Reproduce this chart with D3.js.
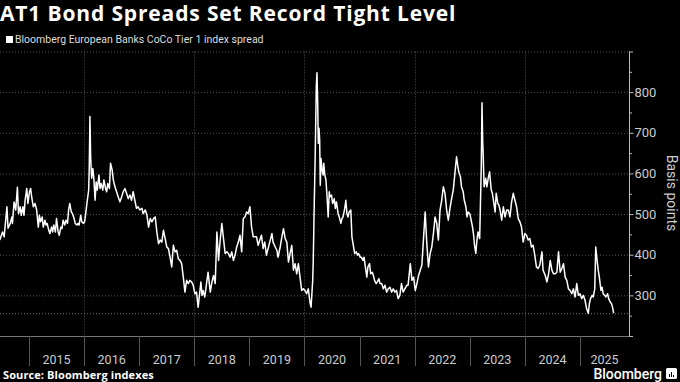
<!DOCTYPE html>
<html>
<head>
<meta charset="utf-8">
<script src="https://cdn.jsdelivr.net/npm/d3@7"></script>
<style>
  body { margin: 0; background: #000; }
  svg text { font-family: Roboto, "Noto Sans", sans-serif; }
  svg text.wide { font-family: "Open Sans", sans-serif; }
</style>
</head>
<body>
<div id="chart"></div>
<script>
// fractional years
var times = [
  2014.47, 2014.52, 2014.55, 2014.56, 2014.60, 2014.62, 2014.66, 2014.69, 2014.70, 2014.73,
  2014.76, 2014.79, 2014.81, 2014.84, 2014.86, 2014.89, 2014.91, 2014.93, 2014.96, 2014.98,
  2015.01, 2015.03, 2015.05, 2015.08, 2015.11, 2015.14, 2015.17, 2015.19, 2015.21, 2015.24,
  2015.26, 2015.29, 2015.31, 2015.33, 2015.36, 2015.38, 2015.41, 2015.43, 2015.45, 2015.48,
  2015.50, 2015.53, 2015.55, 2015.58, 2015.60, 2015.62, 2015.65, 2015.67, 2015.70, 2015.72,
  2015.74, 2015.77, 2015.79, 2015.82, 2015.84, 2015.87, 2015.89, 2015.91, 2015.94, 2015.96,
  2015.99, 2016.01, 2016.03, 2016.06, 2016.084, 2016.095, 2016.107, 2016.120, 2016.138, 2016.16,
  2016.18, 2016.20, 2016.22, 2016.24, 2016.27, 2016.29, 2016.31, 2016.34, 2016.36, 2016.39,
  2016.41, 2016.43, 2016.46, 2016.48, 2016.51, 2016.53, 2016.56, 2016.59, 2016.62, 2016.65,
  2016.68, 2016.71, 2016.74, 2016.77, 2016.80, 2016.83, 2016.86, 2016.89, 2016.92, 2016.95,
  2016.98, 2017.01, 2017.05, 2017.07, 2017.11, 2017.14, 2017.17, 2017.20, 2017.23, 2017.26,
  2017.29, 2017.32, 2017.35, 2017.38, 2017.41, 2017.44, 2017.47, 2017.50, 2017.53, 2017.56,
  2017.59, 2017.62, 2017.65, 2017.68, 2017.71, 2017.74, 2017.77, 2017.80, 2017.83, 2017.86,
  2017.89, 2017.92, 2017.95, 2017.98, 2018.01, 2018.04, 2018.07, 2018.09, 2018.12, 2018.14,
  2018.16, 2018.19, 2018.23, 2018.25, 2018.29, 2018.32, 2018.35, 2018.38, 2018.41, 2018.44,
  2018.47, 2018.50, 2018.53, 2018.56, 2018.59, 2018.62, 2018.65, 2018.68, 2018.71, 2018.74,
  2018.77, 2018.80, 2018.83, 2018.86, 2018.89, 2018.92, 2018.95, 2018.98, 2019.01, 2019.04,
  2019.07, 2019.13, 2019.16, 2019.19, 2019.22, 2019.25, 2019.28, 2019.31, 2019.34, 2019.37,
  2019.41, 2019.43, 2019.47, 2019.50, 2019.52, 2019.56, 2019.59, 2019.62, 2019.65, 2019.68,
  2019.71, 2019.74, 2019.77, 2019.80, 2019.83, 2019.86, 2019.89, 2019.92, 2019.95, 2019.98,
  2020.01, 2020.04, 2020.07, 2020.10, 2020.12, 2020.15, 2020.160, 2020.178, 2020.196, 2020.215,
  2020.227, 2020.240, 2020.251, 2020.264, 2020.276, 2020.287, 2020.300, 2020.32, 2020.34, 2020.35,
  2020.37, 2020.39, 2020.41, 2020.43, 2020.45, 2020.46, 2020.49, 2020.51, 2020.54, 2020.56,
  2020.58, 2020.61, 2020.63, 2020.66, 2020.68, 2020.70, 2020.73, 2020.75, 2020.77, 2020.79,
  2020.81, 2020.84, 2020.86, 2020.89, 2020.91, 2020.94, 2020.96, 2020.98, 2021.01, 2021.03,
  2021.06, 2021.08, 2021.10, 2021.13, 2021.15, 2021.18, 2021.20, 2021.23, 2021.25, 2021.27,
  2021.30, 2021.32, 2021.35, 2021.37, 2021.40, 2021.43, 2021.46, 2021.49, 2021.52, 2021.55,
  2021.58, 2021.61, 2021.64, 2021.67, 2021.70, 2021.73, 2021.76, 2021.79, 2021.82, 2021.86,
  2021.88, 2021.92, 2021.95, 2021.98, 2022.01, 2022.04, 2022.07, 2022.10, 2022.13, 2022.16,
  2022.19, 2022.22, 2022.25, 2022.28, 2022.31, 2022.34, 2022.37, 2022.40, 2022.43, 2022.46,
  2022.49, 2022.52, 2022.55, 2022.58, 2022.61, 2022.64, 2022.67, 2022.70, 2022.73, 2022.76,
  2022.78, 2022.80, 2022.83, 2022.85, 2022.88, 2022.90, 2022.93, 2022.95, 2022.97, 2023.00,
  2023.02, 2023.05, 2023.07, 2023.09, 2023.11, 2023.13, 2023.15, 2023.18, 2023.198, 2023.209,
  2023.222, 2023.234, 2023.245, 2023.26, 2023.29, 2023.31, 2023.34, 2023.36, 2023.39, 2023.41,
  2023.43, 2023.46, 2023.48, 2023.51, 2023.53, 2023.55, 2023.58, 2023.61, 2023.64, 2023.67,
  2023.70, 2023.73, 2023.76, 2023.79, 2023.82, 2023.85, 2023.88, 2023.91, 2023.94, 2023.97,
  2024.00, 2024.03, 2024.06, 2024.09, 2024.12, 2024.15, 2024.18, 2024.21, 2024.24, 2024.27,
  2024.31, 2024.33, 2024.37, 2024.40, 2024.43, 2024.46, 2024.49, 2024.52, 2024.55, 2024.58,
  2024.61, 2024.64, 2024.67, 2024.70, 2024.73, 2024.76, 2024.79, 2024.82, 2024.85, 2024.88,
  2024.91, 2024.94, 2024.97, 2025.00, 2025.03, 2025.06, 2025.09, 2025.12, 2025.15, 2025.17,
  2025.19, 2025.22, 2025.24, 2025.267, 2025.285, 2025.303, 2025.33, 2025.35, 2025.38, 2025.40,
  2025.42, 2025.45, 2025.47, 2025.50, 2025.52, 2025.55, 2025.57, 2025.59, 2025.61
];

// index spread, basis points
var spreads = [
  436, 456, 444, 460, 518, 465, 477, 493, 477, 530,
  510, 566, 501, 518, 497, 518, 497, 534, 563, 526,
  555, 563, 542, 518, 526, 510, 468, 497, 481, 493,
  468, 485, 473, 477, 460, 452, 468, 456, 473, 456,
  489, 456, 448, 468, 464, 485, 473, 485, 477, 510,
  526, 505, 501, 489, 477, 473, 477, 473, 497, 481,
  477, 481, 501, 534, 559, 616, 740, 641, 588, 612,
  584, 534, 579, 559, 596, 563, 575, 559, 584, 563,
  555, 575, 563, 625, 608, 584, 567, 555, 542, 530,
  542, 555, 563, 551, 538, 547, 534, 555, 534, 514,
  518, 510, 514, 501, 510, 497, 468, 489, 481, 489,
  493, 456, 427, 436, 431, 460, 440, 419, 415, 394,
  370, 423, 407, 411, 390, 386, 378, 345, 308, 337,
  329, 337, 333, 325, 304, 308, 271, 296, 333, 300,
  312, 296, 337, 357, 308, 333, 349, 329, 456, 386,
  436, 477, 440, 403, 407, 403, 394, 407, 386, 399,
  419, 431, 448, 407, 489, 493, 505, 501, 518, 468,
  444, 444, 423, 436, 448, 415, 431, 399, 415, 431,
  452, 431, 419, 411, 394, 419, 444, 464, 440, 431,
  382, 403, 423, 362, 378, 353, 378, 345, 312, 316,
  312, 304, 316, 283, 271, 337, 386, 526, 650, 814,
  848, 773, 674, 711, 682, 571, 637, 608, 596, 625,
  596, 584, 542, 493, 555, 542, 547, 526, 538, 514,
  530, 501, 493, 477, 489, 493, 514, 534, 501, 493,
  505, 510, 444, 419, 403, 407, 399, 403, 394, 394,
  386, 394, 374, 345, 370, 378, 353, 357, 349, 337,
  329, 333, 341, 329, 329, 316, 325, 308, 316, 320,
  308, 316, 308, 312, 292, 300, 329, 308, 316, 325,
  325, 378, 337, 345, 312, 329, 349, 362, 374, 440,
  505, 427, 370, 403, 419, 452, 493, 477, 436, 510,
  534, 567, 551, 510, 485, 514, 538, 559, 600, 641,
  621, 604, 592, 567, 555, 534, 518, 493, 505, 501,
  489, 468, 448, 419, 403, 436, 456, 440, 551, 616,
  774, 682, 641, 567, 588, 567, 592, 604, 559, 551,
  534, 505, 551, 526, 522, 510, 485, 518, 493, 510,
  510, 493, 530, 551, 534, 518, 489, 481, 468, 431,
  452, 448, 436, 440, 419, 423, 399, 370, 366, 374,
  407, 362, 349, 333, 353, 386, 362, 353, 353, 357,
  407, 357, 366, 378, 345, 337, 316, 312, 304, 316,
  296, 329, 300, 304, 292, 300, 288, 267, 256, 280,
  292, 300, 296, 316, 419, 394, 362, 345, 312, 320,
  304, 300, 296, 304, 292, 283, 280, 271, 256
];

var yTicks = [300, 400, 500, 600, 700, 800];
var yMinorTicks = [250, 350, 450, 550, 650, 750, 850];
var yearLabels = [2015, 2016, 2017, 2018, 2019, 2020, 2021, 2022, 2023, 2024, 2025];
var gridYears = [2016, 2018, 2020, 2022, 2024];

var svgWidth = 680;
var svgHeight = 382;
var plotRight = 629;
var plotTop = 51.5;
var plotBottom = 336;

function yearToDate(fy) {
  var y = Math.floor(fy);
  var start = new Date(y, 0, 1);
  var end = new Date(y + 1, 0, 1);
  return new Date(+start + (fy - y) * (end - start));
}

var data = times.map(function(t, i) {
  return { date: yearToDate(t), value: spreads[i] };
});

var svg = d3.select("#chart")
  .append("svg")
  .attr("width", svgWidth)
  .attr("height", svgHeight)
  .style("background", "#000");

var x = d3.scaleTime()
  .domain([yearToDate(2014.474), yearToDate(2025.889)])
  .range([0, plotRight]);

var y = d3.scaleLinear()
  .domain([200, 900])
  .range([plotBottom, plotTop]);

// title + legend
svg.append("text")
  .classed("wide", true)
  .attr("x", 0)
  .attr("y", 21)
  .attr("fill", "#fff")
  .attr("font-size", "21px")
  .attr("font-weight", "bold")
  .attr("letter-spacing", "0.85px")
  .text("AT1 Bond Spreads Set Record Tight Level");

svg.append("rect")
  .attr("x", 6)
  .attr("y", 36)
  .attr("width", 7)
  .attr("height", 7)
  .attr("fill", "#fff");

svg.append("text")
  .attr("x", 15)
  .attr("y", 43)
  .attr("fill", "#ddd")
  .attr("font-size", "10.5px")
  .text("Bloomberg European Banks CoCo Tier 1 index spread");

// gridlines
var grid = svg.append("g").attr("stroke", "#555").attr("stroke-dasharray", "1,2");

grid.selectAll("line.hgrid")
  .data(yTicks.concat([900]))
  .enter()
  .append("line")
  .attr("x1", 0)
  .attr("x2", plotRight)
  .attr("y1", d => y(d) + 0.5)
  .attr("y2", d => y(d) + 0.5);

grid.selectAll("line.vgrid")
  .data(gridYears)
  .enter()
  .append("line")
  .attr("x1", d => Math.round(x(new Date(d, 0, 1))) + 0.5)
  .attr("x2", d => Math.round(x(new Date(d, 0, 1))) + 0.5)
  .attr("y1", plotTop)
  .attr("y2", plotBottom);

// reference line at the latest (record tight) level
var lastValue = spreads[spreads.length - 1];
svg.append("line")
  .attr("x1", 0)
  .attr("x2", plotRight)
  .attr("y1", y(lastValue) + 0.5)
  .attr("y2", y(lastValue) + 0.5)
  .attr("stroke", "#777")
  .attr("stroke-dasharray", "1,2");

// x axis
svg.append("line")
  .attr("x1", 0)
  .attr("x2", plotRight)
  .attr("y1", plotBottom + 0.5)
  .attr("y2", plotBottom + 0.5)
  .attr("stroke", "#777");

svg.selectAll("line.ytick")
  .data(yearLabels)
  .enter()
  .append("line")
  .attr("x1", d => Math.round(x(new Date(d, 0, 1))) + 0.5)
  .attr("x2", d => Math.round(x(new Date(d, 0, 1))) + 0.5)
  .attr("y1", plotBottom)
  .attr("y2", plotBottom + 30)
  .attr("stroke", "#555");

svg.selectAll("text.year")
  .data(yearLabels)
  .enter()
  .append("text")
  .attr("x", function(d) {
    var a = x(new Date(d, 0, 1));
    var b = Math.min(x(new Date(d + 1, 0, 1)), plotRight);
    return (a + b) / 2;
  })
  .attr("y", 364)
  .attr("text-anchor", "middle")
  .attr("fill", "#ccc")
  .attr("font-size", "12.5px")
  .text(d => d);

// right y axis
var rightAxis = d3.axisRight(y)
  .tickValues(yTicks)
  .tickSize(4)
  .tickPadding(1)
  .tickFormat(d3.format("d"));

var yAxis = svg.append("g")
  .attr("transform", `translate(${plotRight + 0.5}, 0)`)
  .call(rightAxis);

yAxis.select(".domain").remove();
yAxis.selectAll("line").attr("stroke", "#bbb");
yAxis.selectAll("text")
  .attr("fill", "#ccc")
  .attr("font-size", "13px");

svg.append("line")
  .attr("x1", plotRight + 0.5)
  .attr("x2", plotRight + 0.5)
  .attr("y1", plotTop)
  .attr("y2", plotBottom + 0.5)
  .attr("stroke", "#bbb");

svg.selectAll("line.minor")
  .data(yMinorTicks.concat([200, 900]))
  .enter()
  .append("line")
  .attr("x1", plotRight)
  .attr("x2", d => (d === 200 || d === 900) ? plotRight + 4 : plotRight + 3)
  .attr("y1", d => y(d) + 0.5)
  .attr("y2", d => y(d) + 0.5)
  .attr("stroke", "#bbb");

svg.append("text")
  .attr("transform", `translate(667, 193) rotate(90)`)
  .attr("text-anchor", "middle")
  .attr("fill", "#ccc")
  .attr("font-size", "14px")
  .text("Basis points");

// the series
var line = d3.line()
  .x(d => x(d.date))
  .y(d => y(d.value));

svg.append("path")
  .datum(data)
  .attr("d", line)
  .attr("fill", "none")
  .attr("stroke", "#fff")
  .attr("stroke-width", 1.5)
  .attr("stroke-linejoin", "round");

// footer
svg.append("text")
  .classed("wide", true)
  .attr("x", 3)
  .attr("y", 379)
  .attr("fill", "#fff")
  .attr("font-size", "11px")
  .attr("font-weight", "bold")
  .attr("letter-spacing", "0.1px")
  .text("Source: Bloomberg indexes");

svg.append("text")
  .attr("x", 662)
  .attr("y", 379)
  .attr("text-anchor", "end")
  .attr("fill", "#fff")
  .attr("font-size", "14px")
  .attr("font-weight", 500)
  .text("Bloomberg");

var logo = svg.append("g").attr("transform", "translate(666, 368)");
logo.append("rect")
  .attr("width", 11)
  .attr("height", 11)
  .attr("rx", 1.5)
  .attr("fill", "#fff");
logo.selectAll("rect.bar")
  .data([3, 5, 2])
  .enter()
  .append("rect")
  .attr("x", (d, i) => 3 + i * 2)
  .attr("y", d => 9 - d)
  .attr("width", 1)
  .attr("height", d => d)
  .attr("fill", "#000");
</script>
</body>
</html>
